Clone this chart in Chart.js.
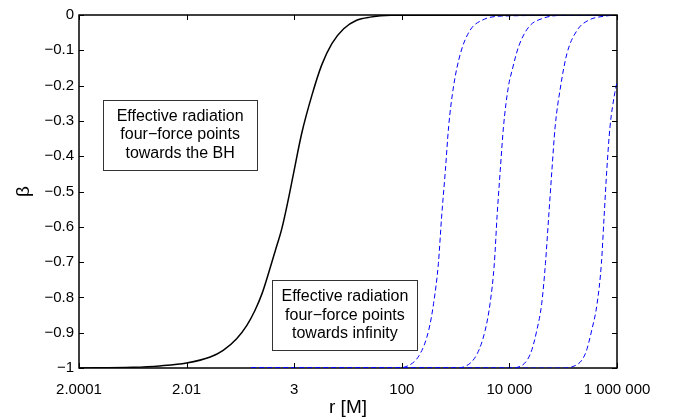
<!DOCTYPE html>
<html>
<head>
<meta charset="utf-8">
<title>beta vs r</title>
<script src="https://cdn.jsdelivr.net/npm/chart.js@4.4.1/dist/chart.umd.min.js"></script>
<style>
    html, body { margin: 0; padding: 0; background: #fff; }
    #wrap { width: 677px; height: 420px; position: relative; }
</style>
</head>
<body>
<div id="wrap"><canvas id="grafico"></canvas></div>
<script>
// ============================================
// DATOS (eje x = log10(r - 2))
// ============================================

const xTickPositions = [-4, -2, 0, 2, 4, 6];
const xTickLabels = ['2.0001', '2.01', '3', '100', '10 000', '1 000 000'];

// curva negra (continua)
const blackX = [-4, -3, -2.5, -2, -1.56, -1.32, -1.07, -0.88, -0.73, -0.60, -0.48, -0.35, -0.23, -0.12, -0.014, 0.14, 0.33, 0.51, 0.70, 0.92, 1.16, 1.41, 1.8, 6];
const blackY = [-1, -0.998, -0.994, -0.986, -0.969, -0.95, -0.917, -0.879, -0.837, -0.79, -0.733, -0.667, -0.605, -0.53, -0.45, -0.335, -0.227, -0.142, -0.081, -0.039, -0.015, -0.006, -0.001, 0];

// curvas azules (discontinuas)
const blue1X = [-0.8, 1.9, 2.06, 2.34, 2.50, 2.59, 2.68, 2.74, 2.81, 2.87, 2.96, 3.09, 3.27, 3.49, 3.86, 6];
const blue1Y = [-1, -1, -0.997, -0.96, -0.893, -0.818, -0.704, -0.572, -0.44, -0.317, -0.204, -0.109, -0.043, -0.015, -0.003, 0];

const blue2X = [-0.8, 3.0, 3.15, 3.40, 3.55, 3.64, 3.72, 3.77, 3.83, 3.89, 3.98, 4.05, 4.17, 4.36, 4.61, 4.97, 6];
const blue2Y = [-1, -1, -0.997, -0.96, -0.893, -0.818, -0.704, -0.572, -0.44, -0.317, -0.204, -0.157, -0.09, -0.034, -0.01, -0.001, 0];

const blue3X = [-0.8, 4.0, 4.17, 4.39, 4.51, 4.60, 4.67, 4.73, 4.79, 4.85, 4.95, 5.07, 5.26, 5.47, 5.78, 6];
const blue3Y = [-1, -1, -0.997, -0.96, -0.893, -0.818, -0.704, -0.572, -0.44, -0.317, -0.204, -0.109, -0.043, -0.015, -0.003, 0];

const blue4X = [-0.8, 5.0, 5.16, 5.41, 5.53, 5.63, 5.71, 5.76, 5.81, 5.87, 5.96, 6.0];
const blue4Y = [-1, -1, -0.997, -0.96, -0.893, -0.818, -0.704, -0.572, -0.44, -0.317, -0.22, -0.19];

const notaBH = ['Effective radiation', 'four\u2212force points', 'towards the BH'];
const notaInf = ['Effective radiation', 'four\u2212force points', 'towards infinity'];

const FUENTE = "'Liberation Sans', Arial, Helvetica, sans-serif";

function puntos(xs, ys) {
    return xs.map((x, i) => ({ x: x, y: ys[i] }));
}

function serieAzul(xs, ys) {
    return {
        data: puntos(xs, ys),
        borderColor: '#0000ff',
        borderWidth: 1,
        borderDash: [5, 3],
        pointRadius: 0,
        showLine: true,
        cubicInterpolationMode: 'monotone'
    };
}

/**
 * Marco, ticks hacia adentro y cuadros de texto (estilo matlab)
 */
const marcoPlugin = {
    id: 'marco',
    beforeDatasetsDraw(chart) {
        const { ctx, chartArea: a } = chart;
        ctx.save();
        ctx.strokeStyle = '#000';
        ctx.lineWidth = 1.5;
        ctx.strokeRect(a.left, a.top, a.right - a.left, a.bottom - a.top);
        ctx.restore();
    },
    afterDatasetsDraw(chart) {
        const { ctx, chartArea: a, scales } = chart;
        const len = 5;
        ctx.save();
        ctx.strokeStyle = '#000';
        ctx.lineWidth = 1;
        ctx.beginPath();
        scales.x.ticks.forEach(t => {
            const px = Math.round(scales.x.getPixelForValue(t.value)) + 0.5;
            ctx.moveTo(px, a.bottom); ctx.lineTo(px, a.bottom - len);
            ctx.moveTo(px, a.top); ctx.lineTo(px, a.top + len);
        });
        scales.y.ticks.forEach(t => {
            const py = Math.round(scales.y.getPixelForValue(t.value)) + 0.5;
            ctx.moveTo(a.left, py); ctx.lineTo(a.left + len, py);
            ctx.moveTo(a.right, py); ctx.lineTo(a.right - len, py);
        });
        ctx.stroke();

        dibujarNota(chart, notaBH, -3.55, -0.69, -0.24, -0.439);
        dibujarNota(chart, notaInf, -0.405, 2.29, -0.751, -0.95);
        ctx.restore();
    }
};

function dibujarNota(chart, lineas, x0, x1, y0, y1) {
    const { ctx, scales } = chart;
    const l = scales.x.getPixelForValue(x0);
    const r = scales.x.getPixelForValue(x1);
    const t = scales.y.getPixelForValue(y0);
    const b = scales.y.getPixelForValue(y1);
    ctx.save();
    ctx.strokeStyle = '#333';
    ctx.lineWidth = 1;
    ctx.strokeRect(Math.round(l) + 0.5, Math.round(t) + 0.5, Math.round(r - l), Math.round(b - t));
    ctx.fillStyle = '#000';
    ctx.font = '16px ' + FUENTE;
    ctx.textAlign = 'center';
    ctx.textBaseline = 'middle';
    const cx = (l + r) / 2;
    const cy = (t + b) / 2;
    const lh = 18.5;
    lineas.forEach((txt, i) => {
        ctx.fillText(txt, cx, cy + (i - (lineas.length - 1) / 2) * lh);
    });
    ctx.restore();
}

const ctx = document.getElementById('grafico');

new Chart(ctx, {
    type: 'scatter',
    data: {
        datasets: [
            {
                data: puntos(blackX, blackY),
                borderColor: '#000',
                borderWidth: 1.5,
                pointRadius: 0,
                showLine: true,
                cubicInterpolationMode: 'monotone'
            },
            serieAzul(blue1X, blue1Y),
            serieAzul(blue2X, blue2Y),
            serieAzul(blue3X, blue3Y),
            serieAzul(blue4X, blue4Y)
        ]
    },
    options: {
        responsive: true,
        maintainAspectRatio: false,
        animation: false,
        devicePixelRatio: 1,
        layout: { padding: { top: 15, right: 60, left: 0, bottom: 0 } },
        plugins: {
            legend: { display: false },
            tooltip: { enabled: false }
        },
        scales: {
            x: {
                type: 'linear',
                min: -4,
                max: 6,
                afterFit: s => { s.height = 52; },
                afterBuildTicks: s => {
                    s.ticks = xTickPositions.map(v => ({ value: v }));
                },
                grid: { display: false, drawTicks: false },
                border: { display: false },
                ticks: {
                    autoSkip: false,
                    maxRotation: 0,
                    padding: 13,
                    color: '#000',
                    font: { family: FUENTE, size: 15 },
                    callback: v => {
                        const i = xTickPositions.indexOf(v);
                        return i >= 0 ? xTickLabels[i] : '';
                    }
                },
                title: {
                    display: true,
                    text: 'r [M]',
                    color: '#000',
                    font: { family: FUENTE, size: 19 },
                    padding: { top: 0, bottom: 1 }
                }
            },
            y: {
                type: 'linear',
                min: -1,
                max: 0,
                afterFit: s => { s.width = 79; },
                grid: { display: false, drawTicks: false },
                border: { display: false },
                ticks: {
                    stepSize: 0.1,
                    autoSkip: false,
                    padding: 5,
                    color: '#000',
                    font: { family: FUENTE, size: 15 },
                    callback: v => {
                        const n = Number(Math.abs(v).toFixed(1));
                        return n === 0 ? '0' : '\u2212' + String(n);
                    }
                },
                title: {
                    display: true,
                    text: '\u03b2',
                    color: '#000',
                    font: { family: FUENTE, size: 19 },
                    padding: { top: 12, bottom: 0 }
                }
            }
        }
    },
    plugins: [marcoPlugin]
});
</script>
</body>
</html>
